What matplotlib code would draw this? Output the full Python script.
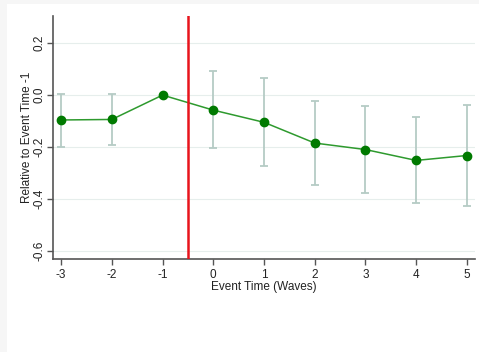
import matplotlib.pyplot as plt
from matplotlib.patches import Rectangle

plt.rcParams['font.family'] = ['Liberation Sans', 'DejaVu Sans']

event_time = [-3, -2, -1, 0, 1, 2, 3, 4, 5]
coef = [-0.096, -0.094, 0.0, -0.058, -0.105, -0.185, -0.210, -0.252, -0.233]
ci_low = [-0.199, -0.194, 0.0, -0.203, -0.275, -0.345, -0.378, -0.418, -0.426]
ci_high = [0.006, 0.004, 0.0, 0.091, 0.064, -0.022, -0.041, -0.086, -0.040]
yticks = [-0.6, -0.4, -0.2, 0.0, 0.2]

fig = plt.figure(figsize=(4.79, 3.52), dpi=100)
fig.patch.set_facecolor('#f6f6f6')
fig.patches.append(Rectangle((7 / 479, 0), 1, 1 - 4 / 352, transform=fig.transFigure,
                             facecolor='white', edgecolor='none', zorder=-10))

ax = fig.add_axes([53 / 479, 1 - 258.7 / 352, 422 / 479, 242.7 / 352])
ax.set_facecolor('white')

# error bars only where the interval is non-trivial
idx = [i for i in range(len(event_time)) if ci_high[i] != ci_low[i]]
ax.errorbar([event_time[i] for i in idx], [coef[i] for i in idx],
            yerr=[[coef[i] - ci_low[i] for i in idx], [ci_high[i] - coef[i] for i in idx]],
            fmt='none', ecolor='#b5cbc5', elinewidth=1.3, capsize=3, capthick=1.3, zorder=2)
ax.plot(event_time, coef, color='#2e9a2e', lw=1.1, zorder=3)
ax.plot(event_time, coef, 'o', color='#007a00', ms=6, zorder=4)
ax.axvline(-0.5, color='#e8141c', lw=1.8, zorder=5)

ax.set_xlim(-3.16, 5.16)
ax.set_ylim(-0.631, 0.305)
ax.set_xticks(event_time)
ax.set_xticklabels([str(t) for t in event_time])
ax.set_yticks(yticks)
ax.set_yticklabels([f'{v:.1f}' for v in yticks], rotation=90, va='center')
ax.grid(axis='y', color='#e6eeec', lw=0.8)
ax.set_axisbelow(True)

for s in ['top', 'right']:
    ax.spines[s].set_visible(False)
for s in ['left', 'bottom']:
    ax.spines[s].set_color('#555555')
    ax.spines[s].set_linewidth(1.2)
ax.tick_params(colors='#555555', labelcolor='#222222', labelsize=8.5, length=4, width=1)
ax.tick_params(axis='y', pad=1.5)

ax.set_xlabel('Event Time (Waves)', fontsize=8.5, color='#222222', labelpad=0)
ax.set_ylabel('Relative to Event Time -1', fontsize=8.5, color='#222222', labelpad=0)

fig.savefig('out.png', dpi=100)
